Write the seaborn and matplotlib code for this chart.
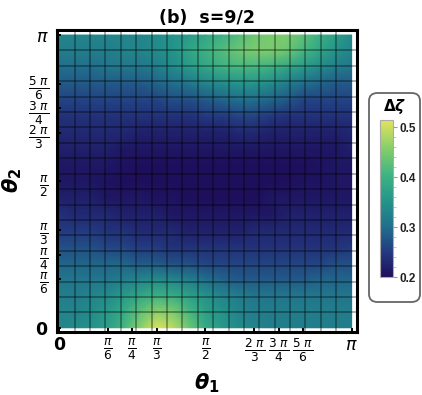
import numpy as np
import pandas as pd
import matplotlib
matplotlib.use('Agg')
import matplotlib.pyplot as plt
from matplotlib.colors import LinearSegmentedColormap
from matplotlib.patches import FancyBboxPatch
from matplotlib.ticker import MultipleLocator
import seaborn as sns

# delta zeta on the (theta1, theta2) grid, 19 x 19 nodes from 0 to pi
# row 0 = theta2 = 0 (bottom), column 0 = theta1 = 0 (left)
dz_rows = [
    [0.33, 0.34, 0.35, 0.37, 0.41, 0.46, 0.51, 0.49, 0.44, 0.39, 0.36, 0.34, 0.33, 0.32, 0.32, 0.32, 0.32, 0.32, 0.32],
    [0.33, 0.33, 0.34, 0.36, 0.39, 0.43, 0.46, 0.45, 0.41, 0.37, 0.35, 0.33, 0.32, 0.32, 0.32, 0.32, 0.32, 0.32, 0.32],
    [0.32, 0.32, 0.33, 0.34, 0.36, 0.38, 0.40, 0.39, 0.37, 0.35, 0.33, 0.32, 0.31, 0.31, 0.31, 0.31, 0.31, 0.31, 0.31],
    [0.31, 0.31, 0.31, 0.31, 0.32, 0.33, 0.34, 0.33, 0.32, 0.30, 0.29, 0.28, 0.28, 0.28, 0.28, 0.28, 0.29, 0.29, 0.29],
    [0.29, 0.29, 0.29, 0.29, 0.29, 0.28, 0.28, 0.27, 0.27, 0.26, 0.26, 0.26, 0.26, 0.26, 0.26, 0.26, 0.26, 0.27, 0.27],
    [0.27, 0.27, 0.27, 0.26, 0.26, 0.25, 0.25, 0.24, 0.24, 0.24, 0.24, 0.24, 0.24, 0.24, 0.24, 0.24, 0.24, 0.24, 0.25],
    [0.25, 0.25, 0.25, 0.24, 0.24, 0.23, 0.23, 0.23, 0.22, 0.22, 0.22, 0.22, 0.23, 0.23, 0.23, 0.23, 0.23, 0.23, 0.23],
    [0.24, 0.23, 0.23, 0.23, 0.22, 0.22, 0.22, 0.21, 0.21, 0.21, 0.21, 0.21, 0.21, 0.21, 0.22, 0.22, 0.22, 0.22, 0.22],
    [0.22, 0.22, 0.22, 0.21, 0.21, 0.21, 0.205, 0.205, 0.20, 0.20, 0.20, 0.20, 0.20, 0.21, 0.21, 0.21, 0.21, 0.21, 0.21],
    [0.21, 0.21, 0.21, 0.205, 0.20, 0.20, 0.20, 0.20, 0.20, 0.20, 0.20, 0.20, 0.20, 0.20, 0.20, 0.205, 0.205, 0.21, 0.21],
    [0.21, 0.21, 0.21, 0.21, 0.205, 0.20, 0.20, 0.20, 0.20, 0.20, 0.20, 0.20, 0.20, 0.20, 0.20, 0.20, 0.205, 0.21, 0.21],
    [0.22, 0.22, 0.22, 0.22, 0.21, 0.21, 0.21, 0.21, 0.21, 0.21, 0.21, 0.21, 0.21, 0.21, 0.21, 0.21, 0.21, 0.21, 0.22],
    [0.23, 0.23, 0.23, 0.23, 0.23, 0.22, 0.22, 0.22, 0.22, 0.22, 0.22, 0.23, 0.23, 0.22, 0.22, 0.22, 0.22, 0.22, 0.23],
    [0.24, 0.24, 0.24, 0.24, 0.24, 0.24, 0.24, 0.24, 0.24, 0.25, 0.25, 0.26, 0.26, 0.25, 0.24, 0.24, 0.24, 0.24, 0.24],
    [0.26, 0.26, 0.26, 0.26, 0.26, 0.26, 0.26, 0.27, 0.27, 0.28, 0.29, 0.30, 0.30, 0.29, 0.28, 0.26, 0.26, 0.26, 0.26],
    [0.28, 0.28, 0.28, 0.28, 0.28, 0.28, 0.29, 0.30, 0.31, 0.33, 0.34, 0.35, 0.35, 0.34, 0.32, 0.30, 0.29, 0.28, 0.28],
    [0.30, 0.30, 0.30, 0.31, 0.31, 0.31, 0.32, 0.34, 0.36, 0.38, 0.40, 0.41, 0.41, 0.40, 0.38, 0.36, 0.34, 0.32, 0.31],
    [0.32, 0.32, 0.32, 0.32, 0.33, 0.33, 0.34, 0.35, 0.38, 0.40, 0.42, 0.44, 0.45, 0.45, 0.44, 0.41, 0.38, 0.35, 0.33],
    [0.33, 0.33, 0.33, 0.33, 0.33, 0.33, 0.34, 0.35, 0.36, 0.38, 0.40, 0.42, 0.44, 0.45, 0.45, 0.43, 0.40, 0.37, 0.34],
]

# tick positions as multiples of pi, and their labels
tick_frac = [0, 1/6, 1/4, 1/3, 1/2, 2/3, 3/4, 5/6, 1]
tick_labels = [r'$\mathbf{0}$', r'$\frac{\pi}{6}$', r'$\frac{\pi}{4}$', r'$\frac{\pi}{3}$',
               r'$\frac{\pi}{2}$', r'$\frac{2\ \pi}{3}$', r'$\frac{3\ \pi}{4}$',
               r'$\frac{5\ \pi}{6}$', r'$\pi$']
cbar_ticks = [0.2, 0.3, 0.4, 0.5]

n = len(dz_rows)
df = pd.DataFrame(dz_rows)

cmap = LinearSegmentedColormap.from_list('dz', [
    (0.00, '#1e0f5c'), (0.16, '#233a80'), (0.32, '#216f8c'), (0.48, '#24948a'),
    (0.65, '#3eb383'), (0.81, '#80cd6c'), (1.00, '#e4e35c')])

fig = plt.figure(figsize=(4.22, 3.95), dpi=100)
ax = fig.add_axes([57/422, 1 - 332/395, 300/422, 302.5/395])
cax = fig.add_axes([380/422, 1 - 277/395, 13/422, 157/395])

sns.heatmap(df, ax=ax, cbar_ax=cax, cmap=cmap, vmin=0.2, vmax=0.515,
            shading='gouraud', xticklabels=False, yticklabels=False)

# axes run 0..n-1 in node units (0..pi)
last = n - 1
ax.set_xlim(-0.14, last + 0.33)
ax.set_ylim(-0.26, last + 0.34)

# mesh lines, 19 cells across
for k in range(1, 19):
    p = k * last / 19
    ax.axvline(p, color='black', lw=1.1, alpha=0.42)
    ax.axhline(p, color='black', lw=1.1, alpha=0.42)

for s in ax.spines.values():
    s.set_visible(True)
    s.set_linewidth(2.2)
    s.set_color('black')

ticks = [f * last for f in tick_frac]
ax.set_xticks(ticks)
ax.set_yticks(ticks)
ax.set_xticklabels(tick_labels, fontsize=12.5, va='top')
ax.set_yticklabels(tick_labels, fontsize=12.5, rotation=0)
ax.tick_params(direction='in', length=3, width=1.4, color='black')
ax.tick_params(axis='x', pad=3)
ax.tick_params(axis='y', pad=6)

ax.set_xlabel(r'$\boldsymbol{\theta}_\mathbf{1}$', fontsize=15)
ax.set_ylabel(r'$\boldsymbol{\theta}_\mathbf{2}$', fontsize=15, va='center')
ax.xaxis.set_label_coords(0.5, -0.13)
ax.yaxis.set_label_coords(-0.15, 0.5)
ax.set_title('(b)  s=9/2', fontsize=12.5, fontweight='bold', pad=5)

# colour bar legend
cb = ax.collections[0].colorbar
cb.set_ticks(cbar_ticks)
cb.ax.yaxis.set_minor_locator(MultipleLocator(0.02))
cb.ax.tick_params(which='major', length=3, width=0.8, color='#999999', pad=1.5)
cb.ax.tick_params(which='minor', length=2.5, width=0.6, color='#bbbbbb')
for t in cb.ax.get_yticklabels():
    t.set_fontfamily('Liberation Sans')
    t.set_fontsize(8.5)
    t.set_fontweight('bold')
    t.set_color('#222222')
cb.outline.set_edgecolor('#aaaaaa')
cb.outline.set_linewidth(0.8)

box = FancyBboxPatch((369/422, 1 - 302/395), 51/422, 209/395,
                     boxstyle='round,pad=0,rounding_size=0.02',
                     transform=fig.transFigure, facecolor='none',
                     edgecolor='#666666', lw=1.3)
fig.patches.append(box)
fig.text(395/422, 1 - 106/395, r'$\boldsymbol{\Delta\zeta}$', fontsize=11,
         ha='center', va='center')

plt.savefig('out.png', dpi=100)
